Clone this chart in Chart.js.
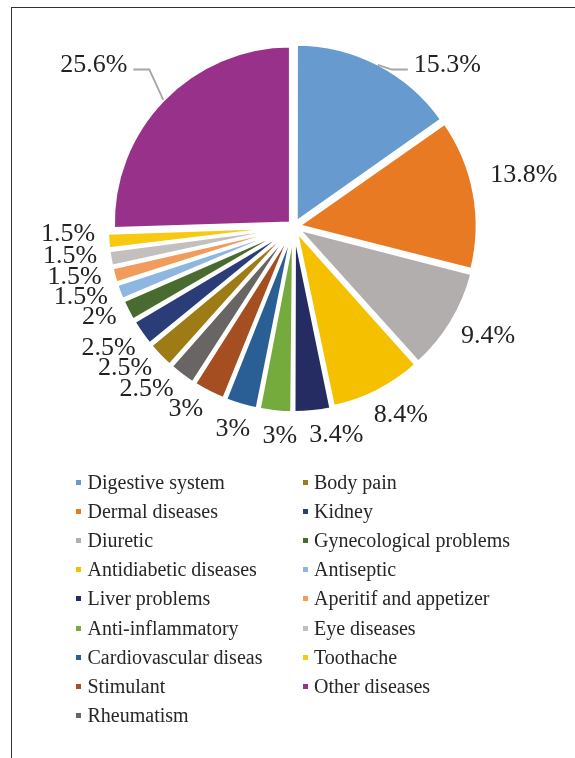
<!DOCTYPE html>
<html>
<head>
<meta charset="utf-8">
<script src="https://cdn.jsdelivr.net/npm/chart.js@4.4.1/dist/chart.umd.min.js"></script>
<style>
    html, body { margin: 0; padding: 0; background: #fff; }
    body { position: relative; width: 575px; height: 758px; overflow: hidden; }
    #marco { position: absolute; left: 11px; top: 7px; width: 700px; height: 900px;
             border-top: 1.5px solid #333; border-left: 1.5px solid #333; }
    #grafica { position: absolute; left: 0; top: 0; }
    #leyenda { position: absolute; left: 76px; top: 468px; display: grid;
               grid-auto-flow: column; grid-template-rows: repeat(9, 29.1px);
               grid-template-columns: 226.5px auto;
               font: 20px "Liberation Serif", "Times New Roman", serif; color: #262626; }
    .item { display: flex; align-items: center; white-space: nowrap; }
    .marca { display: inline-block; width: 5px; height: 5px; margin-right: 6.5px; }
</style>
</head>
<body>
<div id="marco"></div>
<canvas id="grafica" width="575" height="758"></canvas>
<div id="leyenda"></div>
<script>
// Datos (porcentaje de usos por categoría)
const categorias = ["Digestive system", "Dermal diseases", "Diuretic", "Antidiabetic diseases",
    "Liver problems", "Anti-inflammatory", "Cardiovascular diseas", "Stimulant", "Rheumatism",
    "Body pain", "Kidney", "Gynecological problems", "Antiseptic", "Aperitif and appetizer",
    "Eye diseases", "Toothache", "Other diseases"];
const porcentajes = [15.3, 13.8, 9.4, 8.4, 3.4, 3, 3, 3, 2.5, 2.5, 2.5, 2, 1.5, 1.5, 1.5, 1.5, 25.6];
const colores = ["#679bcf", "#e97a24", "#b1aead", "#f5c000", "#252c62", "#75ab3d", "#2a5f96",
    "#a44e22", "#6a6565", "#9e7b14", "#2b3d78", "#4a6b30", "#8db6e1", "#f19b5c", "#c2bfbe",
    "#f7c911", "#983189"];

const EXPLOSION = 5; // separación real de cada porción (Chart.js divide offset entre 4)

// ==================== ETIQUETAS DE PORCENTAJE ====================
const etiquetasPorcentaje = {
    id: 'etiquetasPorcentaje',
    afterDatasetsDraw(chart) {
        const ctx = chart.ctx;
        const meta = chart.getDatasetMeta(0);
        const alto = 18; // alto aprox. de los dígitos
        ctx.save();
        ctx.font = '26px "Liberation Serif", "Times New Roman", serif';
        ctx.fillStyle = '#222';
        ctx.textAlign = 'center';
        ctx.textBaseline = 'alphabetic';

        const etiquetas = meta.data.map((arco, i) => {
            const p = arco.getProps(['x', 'y', 'startAngle', 'endAngle', 'outerRadius'], true);
            const texto = porcentajes[i] + '%';
            return {
                cx: p.x, cy: p.y,
                r: p.outerRadius + EXPLOSION,
                ang: (p.startAngle + p.endAngle) / 2,
                texto,
                ancho: ctx.measureText(texto).width
            };
        });

        // posición del centro del texto fuera de la porción
        const posicion = e => {
            const cos = Math.cos(e.ang), sin = Math.sin(e.ang);
            const d = e.r + 17 + (e.ancho / 2) * Math.abs(cos) + (alto / 2) * Math.abs(sin);
            return { x: e.cx + cos * d, y: e.cy + sin * d - 12 * Math.abs(cos) };
        };

        // las de arriba llevan línea guía, el resto se abren si se enciman
        const libres = etiquetas.filter(e => Math.sin(e.ang) >= -0.6);
        for (let it = 0; it < 600; it++) {
            let movido = false;
            for (let k = 0; k < libres.length - 1; k++) {
                const a = libres[k], b = libres[k + 1];
                const pa = posicion(a), pb = posicion(b);
                const solapeX = (a.ancho + b.ancho) / 2 + 12 - Math.abs(pa.x - pb.x);
                const solapeY = alto + 2 - Math.abs(pa.y - pb.y);
                if (solapeX > 0 && solapeY > 0) {
                    a.ang -= 0.002;
                    b.ang += 0.002;
                    movido = true;
                }
            }
            if (!movido) break;
        }

        etiquetas.forEach(e => {
            const cos = Math.cos(e.ang), sin = Math.sin(e.ang);
            let lx, ly;
            if (sin < -0.6) {
                // etiqueta sobre el pastel con línea guía hasta la porción
                const px = e.cx + cos * e.r, py = e.cy + sin * e.r;
                ly = e.cy - e.r + 18;
                const lado = cos < 0 ? -1 : 1;
                const ex = px + lado * 14, ey = ly + 7;
                const fx = ex + lado * 16;
                ctx.strokeStyle = '#a6a6a6';
                ctx.lineWidth = 1.8;
                ctx.beginPath();
                ctx.moveTo(px, py);
                ctx.lineTo(ex, ey);
                ctx.lineTo(fx, ey);
                ctx.stroke();
                lx = fx + lado * (6 + e.ancho / 2);
            } else {
                const p = posicion(e);
                lx = p.x;
                ly = p.y;
            }
            ctx.fillText(e.texto, lx, ly + alto / 2);
        });
        ctx.restore();
    }
};

const ctx = document.getElementById('grafica').getContext('2d');
new Chart(ctx, {
    type: 'pie',
    data: {
        labels: categorias,
        datasets: [{
            data: porcentajes,
            backgroundColor: colores,
            borderColor: '#fff',
            borderWidth: 3,
            offset: EXPLOSION * 4,
            hoverOffset: 0
        }]
    },
    options: {
        responsive: false,
        animation: false,
        events: [],
        radius: 177,
        layout: { padding: { left: 13, right: 0, top: 0, bottom: 305 } },
        plugins: {
            legend: { display: false },
            tooltip: { enabled: false }
        }
    },
    plugins: [etiquetasPorcentaje]
});

// Leyenda en dos columnas (9 + 8), como en la figura
const leyenda = document.getElementById('leyenda');
categorias.forEach((nombre, i) => {
    const item = document.createElement('div');
    item.className = 'item';
    const marca = document.createElement('span');
    marca.className = 'marca';
    marca.style.background = colores[i];
    item.appendChild(marca);
    item.appendChild(document.createTextNode(nombre));
    leyenda.appendChild(item);
});
</script>
</body>
</html>
